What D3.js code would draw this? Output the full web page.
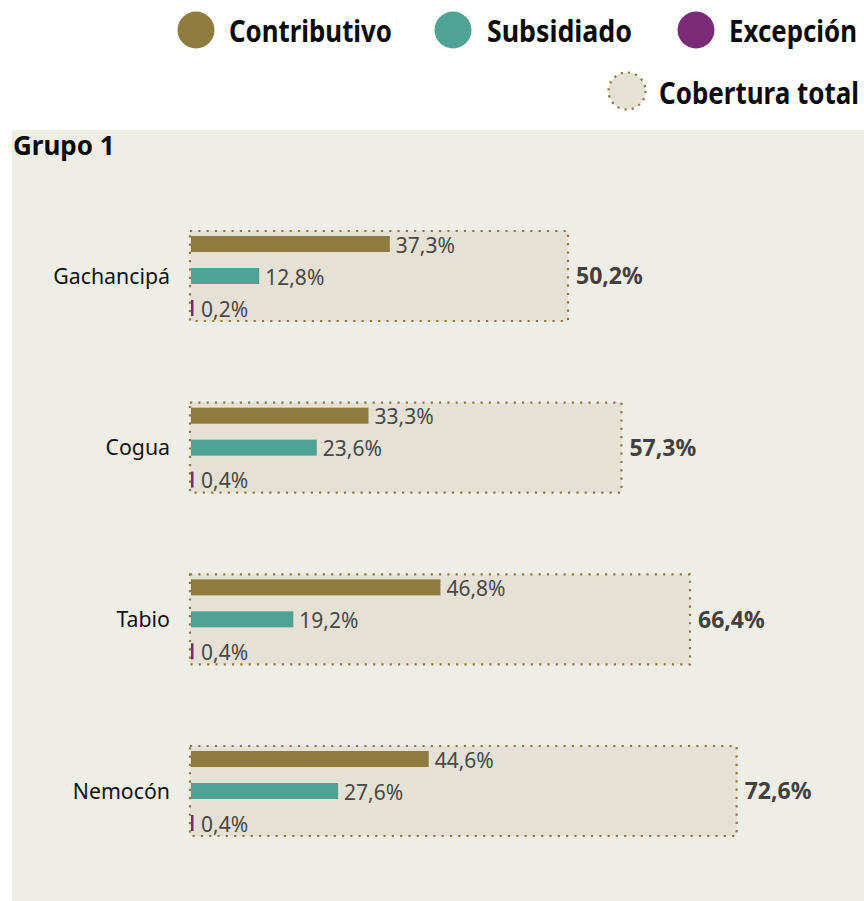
<!DOCTYPE html>
<html>
<head>
<meta charset="utf-8">
<script src="https://cdn.jsdelivr.net/npm/d3@7"></script>
<style>
  html, body { margin: 0; padding: 0; background: #ffffff; }
  svg { display: block; }
  text { font-family: "Noto Sans", "Open Sans", sans-serif; }
</style>
</head>
<body>
<div id="chart"></div>
<script>
const categories = ["Gachancipá", "Cogua", "Tabio", "Nemocón"];
const contributivo = [37.3, 33.3, 46.8, 44.6];
const subsidiado = [12.8, 23.6, 19.2, 27.6];
const excepcion = [0.2, 0.4, 0.4, 0.4];
const total = [50.2, 57.3, 66.4, 72.6];
const seriesNames = ["Contributivo", "Subsidiado", "Excepción"];
const totalName = "Cobertura total";
const groupTitle = "Grupo 1";

const colors = { Contributivo: "#8f7b3e", Subsidiado: "#4fa394", "Excepción": "#7a2b78" };
const boxFill = "#e5e1d5";
const panelFill = "#eeede6";

const W = 864, H = 901;
const svg = d3.select("#chart").append("svg").attr("width", W).attr("height", H);

const fmt = v => d3.format(".1f")(v).replace(".", ",") + "%";

// panel
svg.append("rect").attr("x", 12).attr("y", 130).attr("width", W - 12).attr("height", H - 130).attr("fill", panelFill);
svg.append("text").attr("x", 13).attr("y", 155).attr("font-size", 26).attr("font-weight", 700)
  .attr("fill", "#0a0a0a").text(groupTitle);

// scales
const xBar = d3.scaleLinear().domain([0, 100]).range([190, 723]);
const xTot = d3.scaleLinear().domain([0, 100]).range([190, 943]);
const yBox = d3.scalePoint().domain(categories).range([231, 746]);
const boxH = 90;
const barH = 16;
const yInner = d3.scalePoint().domain(seriesNames).range([5, 69]);

const rows = categories.map((c, i) => ({
  cat: c,
  total: total[i],
  vals: [contributivo[i], subsidiado[i], excepcion[i]]
}));

const g = svg.selectAll("g.row").data(rows).join("g").attr("class", "row")
  .attr("transform", d => `translate(0,${yBox(d.cat)})`);

// total box
g.append("rect")
  .attr("x", xTot(0)).attr("y", 0)
  .attr("width", d => xTot(d.total) - xTot(0)).attr("height", boxH)
  .attr("fill", boxFill)
  .attr("stroke", "#8f7b3e").attr("stroke-width", 2.2)
  .attr("stroke-dasharray", "2.2 6.1");

g.append("text")
  .attr("x", d => xTot(d.total) + 8).attr("y", boxH / 2)
  .attr("dy", "0.36em")
  .attr("font-size", 23).attr("font-weight", 700).attr("fill", "#404040")
  .text(d => fmt(d.total));

// category label
g.append("text")
  .attr("x", 170).attr("y", boxH / 2).attr("dy", "0.36em")
  .attr("text-anchor", "end").attr("font-size", 21.3).attr("fill", "#111")
  .text(d => d.cat);

// bars
g.each(function(d) {
  const gg = d3.select(this);
  d.vals.forEach((v, j) => {
    const name = seriesNames[j];
    const w = Math.max(2.5, xBar(v) - xBar(0));
    gg.append("rect")
      .attr("x", xBar(0) + 1).attr("y", yInner(name))
      .attr("width", w).attr("height", barH)
      .attr("fill", colors[name]);
    gg.append("text")
      .attr("x", xBar(0) + 1 + w + (j === 2 ? 7.5 : 6))
      .attr("y", yInner(name) + barH / 2 + 1).attr("dy", "0.36em")
      .attr("font-size", 21).attr("fill", "#484848")
      .text(fmt(v));
  });
});

// legend
function legendText(x, baseline, tw, label) {
  svg.append("g").attr("transform", `translate(${x},${baseline}) scale(1,1.25)`)
    .append("text").attr("x", 0).attr("y", 0)
    .attr("font-size", 24).attr("font-weight", 700).attr("fill", "#0a0a0a")
    .attr("textLength", tw).attr("lengthAdjust", "spacingAndGlyphs")
    .text(label);
}
const leg = [
  { name: "Contributivo", cx: 196, tx: 229, tw: 163, cy: 30 },
  { name: "Subsidiado", cx: 453, tx: 487, tw: 145, cy: 30 },
  { name: "Excepción", cx: 696, tx: 729, tw: 128, cy: 30 }
];
leg.forEach(l => {
  svg.append("circle").attr("cx", l.cx).attr("cy", l.cy).attr("r", 18.5).attr("fill", colors[l.name]);
  legendText(l.tx, 42, l.tw, l.name);
});
svg.append("circle").attr("cx", 627).attr("cy", 91).attr("r", 18.5)
  .attr("fill", boxFill).attr("stroke", "#8f7b3e").attr("stroke-width", 2.2)
  .attr("stroke-dasharray", "2.2 5.1");
legendText(659, 103.5, 200, totalName);
</script>
</body>
</html>
